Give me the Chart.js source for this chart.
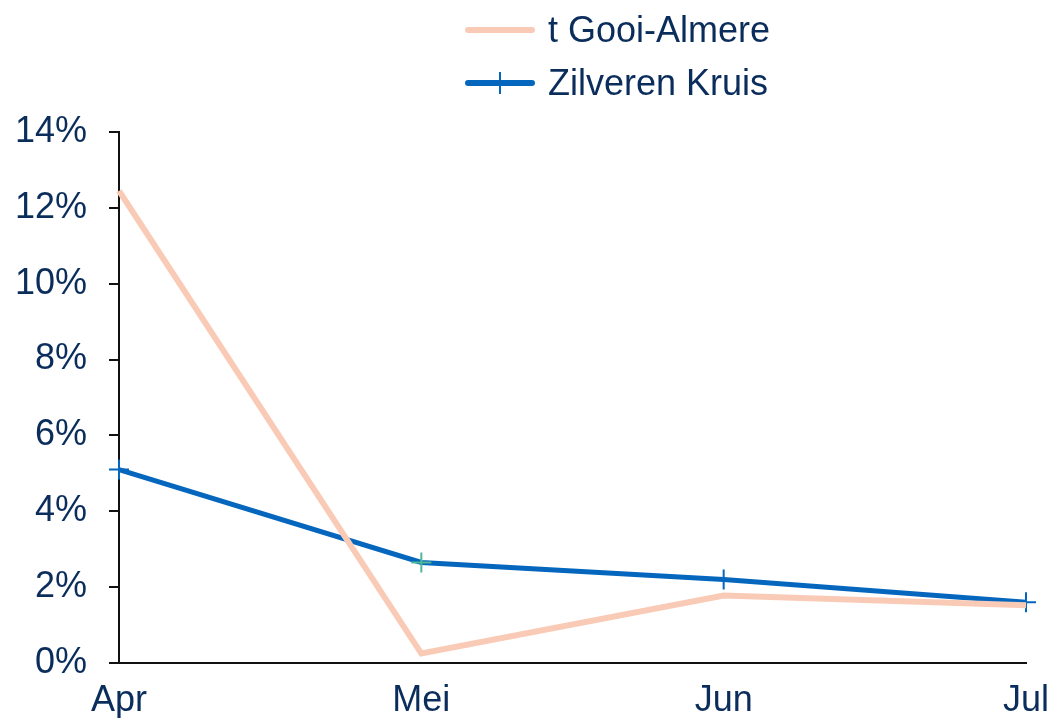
<!DOCTYPE html>
<html>
<head>
<meta charset="utf-8">
<script src="https://cdn.jsdelivr.net/npm/chart.js@4"></script>
<style>
  html, body { margin: 0; padding: 0; background: #fff; }
  #wrap { position: relative; width: 1053px; height: 718px; }
  #legend { position: absolute; left: 465px; top: 3px; font-family: "Liberation Sans", Arial, sans-serif; font-size: 36px; color: #0a2d5c; }
  .item { position: relative; height: 53px; display: flex; align-items: center; }
  .swatch { position: relative; width: 70px; height: 6px; border-radius: 3px; margin-right: 13px; }
  .tick { position: absolute; left: 34px; top: -8px; width: 2px; height: 22px; }
</style>
</head>
<body>
<div id="wrap">
  <canvas id="c" width="1053" height="718"></canvas>
  <div id="legend"></div>
</div>
<script>
// --- data ---
const months = ["Apr", "Mei", "Jun", "Jul"];
const gooiAlmere = [12.45, 0.25, 1.78, 1.52];
const zilverenKruis = [5.1, 2.65, 2.2, 1.6];
const yTicks = [0, 2, 4, 6, 8, 10, 12, 14];

const navy = "#0a2d5c";
const pink = "#f9cbb6";
const blue = "#0566bd";

Chart.defaults.font.family = '"Liberation Sans", Arial, sans-serif';
Chart.defaults.font.size = 36;
Chart.defaults.color = navy;

const chart = new Chart(document.getElementById("c"), {
  type: "line",
  data: {
    labels: months,
    datasets: [
      {
        label: "t Gooi-Almere",
        data: gooiAlmere,
        borderColor: pink,
        borderWidth: 6,
        pointRadius: 0,
        tension: 0
      },
      {
        label: "Zilveren Kruis",
        data: zilverenKruis,
        borderColor: blue,
        borderWidth: 5,
        pointStyle: "cross",
        pointRadius: 10,
        pointBorderWidth: 2,
        pointBorderColor: [blue, "#4db89a", blue, blue],
        tension: 0
      }
    ]
  },
  options: {
    responsive: false,
    animation: false,
    layout: { padding: { top: 132, right: 0, left: 0, bottom: 0 } },
    plugins: { legend: { display: false }, tooltip: { enabled: false } },
    scales: {
      x: {
        offset: false,
        grid: { display: false, drawTicks: false },
        border: { display: true, color: "#111", width: 2 },
        ticks: { padding: 16 },
        afterFit: s => { s.height = 55; s.paddingLeft = 0; s.paddingRight = 27; }
      },
      y: {
        min: 0,
        max: 14,
        afterBuildTicks: s => { s.ticks = yTicks.map(v => ({ value: v })); },
        grid: { drawOnChartArea: false, drawTicks: true, tickLength: 10, color: "#111", lineWidth: 2 },
        border: { display: true, color: "#111", width: 2 },
        ticks: { padding: 22, callback: v => v + "%" },
        afterFit: s => { s.width = 119; s.paddingTop = 0; s.paddingBottom = 0; }
      }
    }
  }
});

// html legend built from the datasets
const leg = document.getElementById("legend");
chart.data.datasets.forEach(ds => {
  const item = document.createElement("div");
  item.className = "item";
  const sw = document.createElement("div");
  sw.className = "swatch";
  sw.style.background = ds.borderColor;
  if (ds.pointStyle === "cross") {
    const t = document.createElement("div");
    t.className = "tick";
    t.style.background = ds.borderColor;
    sw.appendChild(t);
  }
  const txt = document.createElement("span");
  txt.textContent = ds.label;
  item.appendChild(sw);
  item.appendChild(txt);
  leg.appendChild(item);
});
</script>
</body>
</html>
